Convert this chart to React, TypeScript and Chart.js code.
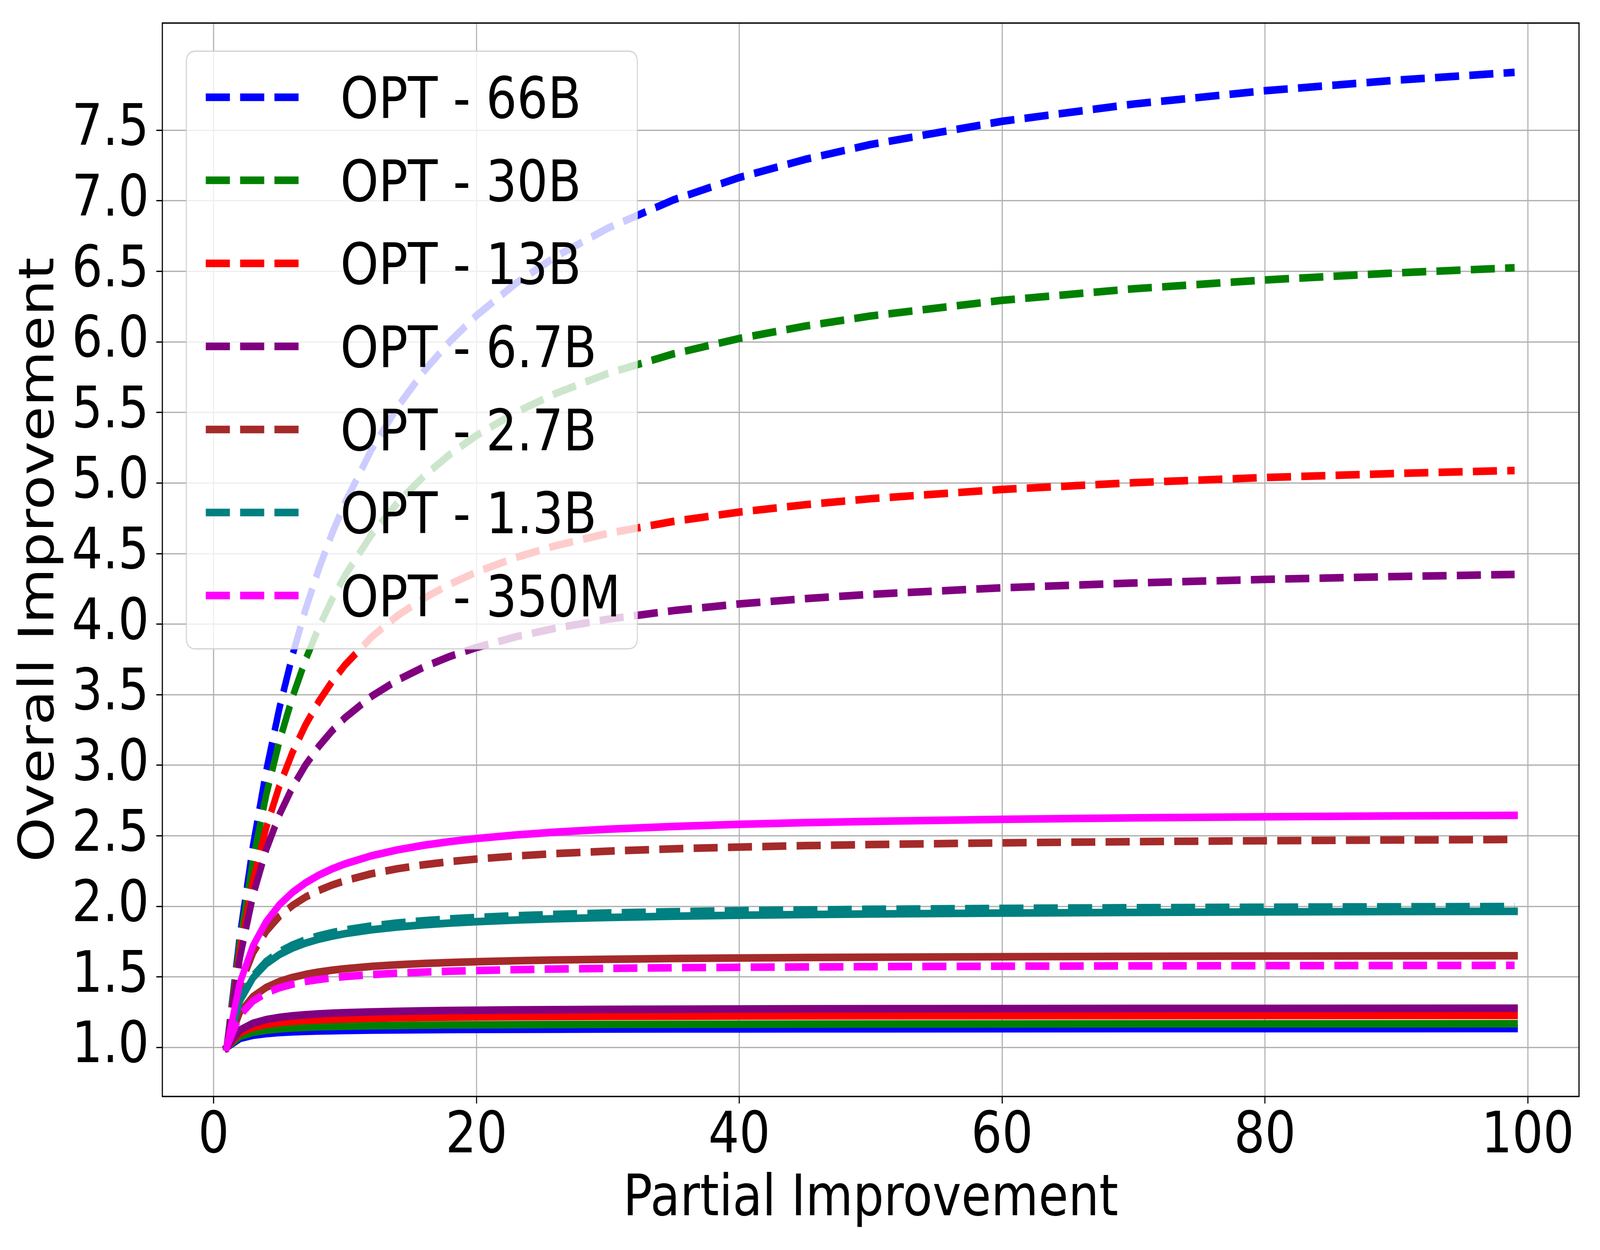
import React, { useEffect, useRef } from 'react';
import { Chart, registerables } from 'chart.js';

Chart.register(...registerables);

// ---------------- data ----------------
const xValues = [1, 2, 3, 4, 5, 6, 7, 8, 9, 10, 12, 14, 16, 18, 20, 23, 26, 30, 35, 40, 45, 50, 60, 70, 80, 90, 99];

const modelNames = ['OPT - 66B', 'OPT - 30B', 'OPT - 13B', 'OPT - 6.7B', 'OPT - 2.7B', 'OPT - 1.3B', 'OPT - 350M'];
const modelColors = ['#0000ff', '#008000', '#ff0000', '#800080', '#a52a2a', '#008080', '#ff00ff'];

const dashed66B = [1.0000, 1.7897, 2.4291, 2.9575, 3.4014, 3.7795, 4.1056, 4.3896, 4.6392, 4.8603, 5.2345, 5.5391, 5.7919, 6.0050, 6.1872, 6.4156, 6.6032, 6.8066, 7.0070, 7.1653, 7.2934, 7.3992, 7.5638, 7.6860, 7.7802, 7.8551, 7.9105];
const dashed30B = [1.0000, 1.7473, 2.3270, 2.7898, 3.1678, 3.4823, 3.7481, 3.9757, 4.1729, 4.3452, 4.6321, 4.8614, 5.0489, 5.2050, 5.3370, 5.5008, 5.6338, 5.7766, 5.9158, 6.0246, 6.1121, 6.1840, 6.2950, 6.3767, 6.4394, 6.4891, 6.5257];
const dashed13B = [1.0000, 1.6831, 2.1793, 2.5561, 2.8519, 3.0904, 3.2867, 3.4511, 3.5908, 3.7110, 3.9071, 4.0604, 4.1835, 4.2846, 4.3690, 4.4725, 4.5554, 4.6435, 4.7283, 4.7940, 4.8464, 4.8892, 4.9547, 5.0026, 5.0392, 5.0679, 5.0891];
const dashed6p7B = [1.0000, 1.6368, 2.0779, 2.4014, 2.6489, 2.8443, 3.0025, 3.1332, 3.2430, 3.3366, 3.4875, 3.6039, 3.6964, 3.7718, 3.8343, 3.9104, 3.9710, 4.0349, 4.0962, 4.1433, 4.1808, 4.2112, 4.2577, 4.2916, 4.3173, 4.3375, 4.3524];
const dashed2p7B = [1.0000, 1.4305, 1.6702, 1.8229, 1.9287, 2.0064, 2.0657, 2.1126, 2.1506, 2.1820, 2.2309, 2.2671, 2.2951, 2.3173, 2.3354, 2.3570, 2.3739, 2.3914, 2.4079, 2.4204, 2.4303, 2.4382, 2.4502, 2.4588, 2.4653, 2.4704, 2.4741];
const dashed1p3B = [1.0000, 1.3376, 1.5072, 1.6093, 1.6774, 1.7261, 1.7627, 1.7912, 1.8139, 1.8326, 1.8613, 1.8823, 1.8984, 1.9112, 1.9215, 1.9337, 1.9432, 1.9530, 1.9622, 1.9692, 1.9747, 1.9790, 1.9857, 1.9904, 1.9940, 1.9968, 1.9988];
const dashed350M = [1.0000, 1.2282, 1.3293, 1.3864, 1.4230, 1.4486, 1.4674, 1.4818, 1.4932, 1.5025, 1.5166, 1.5269, 1.5346, 1.5407, 1.5456, 1.5515, 1.5560, 1.5606, 1.5649, 1.5682, 1.5707, 1.5727, 1.5758, 1.5780, 1.5797, 1.5810, 1.5819];

const solid66B = [1.0000, 1.0635, 1.0865, 1.0984, 1.1056, 1.1105, 1.1140, 1.1167, 1.1187, 1.1204, 1.1229, 1.1247, 1.1260, 1.1271, 1.1279, 1.1289, 1.1297, 1.1305, 1.1312, 1.1318, 1.1322, 1.1325, 1.1330, 1.1334, 1.1337, 1.1339, 1.1340];
const solid30B = [1.0000, 1.0783, 1.1073, 1.1223, 1.1315, 1.1378, 1.1423, 1.1457, 1.1483, 1.1504, 1.1537, 1.1560, 1.1577, 1.1591, 1.1601, 1.1614, 1.1624, 1.1634, 1.1643, 1.1650, 1.1656, 1.1660, 1.1667, 1.1672, 1.1675, 1.1678, 1.1680];
const solid13B = [1.0000, 1.1031, 1.1423, 1.1630, 1.1758, 1.1845, 1.1908, 1.1955, 1.1992, 1.2022, 1.2067, 1.2100, 1.2124, 1.2144, 1.2159, 1.2177, 1.2191, 1.2205, 1.2218, 1.2228, 1.2236, 1.2242, 1.2252, 1.2258, 1.2263, 1.2267, 1.2270];
const solid6p7B = [1.0000, 1.1235, 1.1717, 1.1974, 1.2134, 1.2242, 1.2321, 1.2381, 1.2428, 1.2466, 1.2523, 1.2564, 1.2595, 1.2620, 1.2639, 1.2662, 1.2680, 1.2698, 1.2715, 1.2728, 1.2738, 1.2745, 1.2757, 1.2766, 1.2772, 1.2777, 1.2781];
const solid2p7B = [1.0000, 1.2484, 1.3612, 1.4255, 1.4671, 1.4963, 1.5178, 1.5343, 1.5475, 1.5581, 1.5744, 1.5862, 1.5952, 1.6023, 1.6080, 1.6147, 1.6199, 1.6253, 1.6303, 1.6341, 1.6371, 1.6394, 1.6430, 1.6456, 1.6475, 1.6490, 1.6501];
const solid1p3B = [1.0000, 1.3299, 1.4942, 1.5926, 1.6580, 1.7048, 1.7398, 1.7671, 1.7888, 1.8067, 1.8341, 1.8541, 1.8695, 1.8816, 1.8914, 1.9031, 1.9121, 1.9215, 1.9302, 1.9368, 1.9420, 1.9462, 1.9525, 1.9570, 1.9604, 1.9631, 1.9650];
const solid350M = [1.0000, 1.4580, 1.7208, 1.8912, 2.0106, 2.0990, 2.1671, 2.2210, 2.2649, 2.3013, 2.3582, 2.4005, 2.4333, 2.4594, 2.4807, 2.5062, 2.5261, 2.5468, 2.5664, 2.5813, 2.5929, 2.6024, 2.6166, 2.6269, 2.6347, 2.6407, 2.6452];

const dashedSeries = [dashed66B, dashed30B, dashed13B, dashed6p7B, dashed2p7B, dashed1p3B, dashed350M];
const solidSeries = [solid66B, solid30B, solid13B, solid6p7B, solid2p7B, solid1p3B, solid350M];

const xTickValues = [0, 20, 40, 60, 80, 100];
const yTickValues = [1.0, 1.5, 2.0, 2.5, 3.0, 3.5, 4.0, 4.5, 5.0, 5.5, 6.0, 6.5, 7.0, 7.5];

const xTitle = 'Partial Improvement';
const yTitle = 'Overall Improvement';

// ---------------- styling ----------------
const FONT = "'DejaVu Sans', 'Liberation Sans', sans-serif";
const FS = 145.8;
const LW = 19.5;
const DASH = [72.3, 30.7];

const legendPlugin = {
  id: 'frameAndLegend',
  afterDatasetsDraw(chart: any) {
    const { ctx, chartArea: a } = chart;
    ctx.save();
    // spines
    ctx.strokeStyle = '#000000';
    ctx.lineWidth = 3.5;
    ctx.setLineDash([]);
    ctx.strokeRect(a.left, a.top, a.right - a.left, a.bottom - a.top);

    // legend box
    const bx = a.left + 72;
    const by = a.top + 72;
    const bw = 1353;
    const bh = 1530;
    const r = 28;
    ctx.beginPath();
    ctx.moveTo(bx + r, by);
    ctx.lineTo(bx + bw - r, by);
    ctx.quadraticCurveTo(bx + bw, by, bx + bw, by + r);
    ctx.lineTo(bx + bw, by + bh - r);
    ctx.quadraticCurveTo(bx + bw, by + bh, bx + bw - r, by + bh);
    ctx.lineTo(bx + r, by + bh);
    ctx.quadraticCurveTo(bx, by + bh, bx, by + bh - r);
    ctx.lineTo(bx, by + r);
    ctx.quadraticCurveTo(bx, by, bx + r, by);
    ctx.closePath();
    ctx.fillStyle = 'rgba(255,255,255,0.8)';
    ctx.fill();
    ctx.strokeStyle = 'rgba(204,204,204,0.8)';
    ctx.lineWidth = 3.3;
    ctx.stroke();

    const lineX0 = bx + 58.3;
    const lineX1 = lineX0 + 291.6;
    const textX = bx + 462;
    const row0 = by + 118;
    const rowStep = 212.6;
    modelNames.forEach((name, i) => {
      const y = row0 + i * rowStep;
      ctx.beginPath();
      ctx.setLineDash(DASH);
      ctx.lineDashOffset = 0;
      ctx.lineCap = 'butt';
      ctx.strokeStyle = modelColors[i];
      ctx.lineWidth = LW;
      ctx.moveTo(lineX0, y);
      ctx.lineTo(lineX1, y);
      ctx.stroke();
      ctx.setLineDash([]);
      ctx.fillStyle = '#000000';
      ctx.font = `${FS}px ${FONT}`;
      ctx.textAlign = 'left';
      ctx.textBaseline = 'alphabetic';
      ctx.fillText(name, textX, y + 0.3645 * FS);
    });
    ctx.restore();
  },
};

export default function App() {
  const canvasRef = useRef<HTMLCanvasElement | null>(null);

  useEffect(() => {
    if (!canvasRef.current) return;
    const toPoints = (arr: number[]) => arr.map((y, i) => ({ x: xValues[i], y }));
    const logical: any[] = [];
    modelNames.forEach((name, i) => {
      logical.push({
        label: name,
        data: toPoints(dashedSeries[i]),
        borderColor: modelColors[i],
        backgroundColor: modelColors[i],
        borderWidth: LW,
        borderDash: DASH,
        borderCapStyle: 'butt',
        borderJoinStyle: 'round',
        pointRadius: 0,
        pointHoverRadius: 0,
        tension: 0,
        fill: false,
      });
      logical.push({
        label: name + ' (solid)',
        data: toPoints(solidSeries[i]),
        borderColor: modelColors[i],
        backgroundColor: modelColors[i],
        borderWidth: LW,
        borderCapStyle: 'square',
        borderJoinStyle: 'round',
        pointRadius: 0,
        pointHoverRadius: 0,
        tension: 0,
        fill: false,
      });
    });
    // later datasets are painted on top
    logical.forEach((d, i) => { d.order = logical.length - i; });

    const chart = new Chart(canvasRef.current, {
      type: 'line',
      data: { datasets: logical },
      options: {
        animation: false,
        responsive: false,
        devicePixelRatio: 1,
        events: [],
        layout: { padding: { left: 0, right: 63, top: 59, bottom: 0 } },
        plugins: {
          legend: { display: false },
          tooltip: { enabled: false },
        },
        scales: {
          x: {
            type: 'linear',
            min: -3.9,
            max: 103.9,
            afterBuildTicks: (scale: any) => { scale.ticks = xTickValues.map((v) => ({ value: v })); },
            afterFit: (scale: any) => {
              scale.height = 393;
              scale.paddingLeft = 0;
              scale.paddingRight = 0;
              scale.paddingTop = 0;
              scale.paddingBottom = 0;
            },
            ticks: {
              font: { family: FONT, size: FS },
              color: '#000000',
              padding: 0,
              maxRotation: 0,
              autoSkip: false,
              callback: (v: any) => String(v),
            },
            grid: {
              color: '#b0b0b0',
              lineWidth: 3.3,
              drawTicks: true,
              tickLength: 18,
              tickColor: '#000000',
              tickWidth: 3.3,
            },
            border: { display: false },
            title: {
              display: true,
              text: xTitle,
              color: '#000000',
              font: { family: FONT, size: FS },
              padding: { top: 0, bottom: 39 },
            },
          },
          y: {
            type: 'linear',
            min: 0.6526,
            max: 8.26,
            afterBuildTicks: (scale: any) => { scale.ticks = yTickValues.map((v) => ({ value: v })); },
            afterFit: (scale: any) => {
              scale.width = 487;
              scale.paddingLeft = 0;
              scale.paddingRight = 0;
              scale.paddingTop = 0;
              scale.paddingBottom = 0;
            },
            ticks: {
              font: { family: FONT, size: FS },
              color: '#000000',
              padding: 22,
              autoSkip: false,
              callback: (v: any) => Number(v).toFixed(1),
            },
            grid: {
              color: '#b0b0b0',
              lineWidth: 3.3,
              drawTicks: true,
              tickLength: 18,
              tickColor: '#000000',
              tickWidth: 3.3,
            },
            border: { display: false },
            title: {
              display: true,
              text: yTitle,
              color: '#000000',
              font: { family: FONT, size: FS },
              padding: { top: 35, bottom: 0 },
            },
          },
        },
      },
      plugins: [legendPlugin],
    });
    return () => chart.destroy();
  }, []);

  // The chart is drawn on a 4800x3200 bitmap and shown so that it fills the browser viewport.
  return (
    <div style={{ position: 'absolute', left: 0, top: 0, width: '100vw', height: '100vh', overflow: 'hidden', background: '#ffffff' }}>
      <canvas ref={canvasRef} width={4800} height={3200} style={{ width: '100vw', height: '100vh', display: 'block' }} />
    </div>
  );
}
